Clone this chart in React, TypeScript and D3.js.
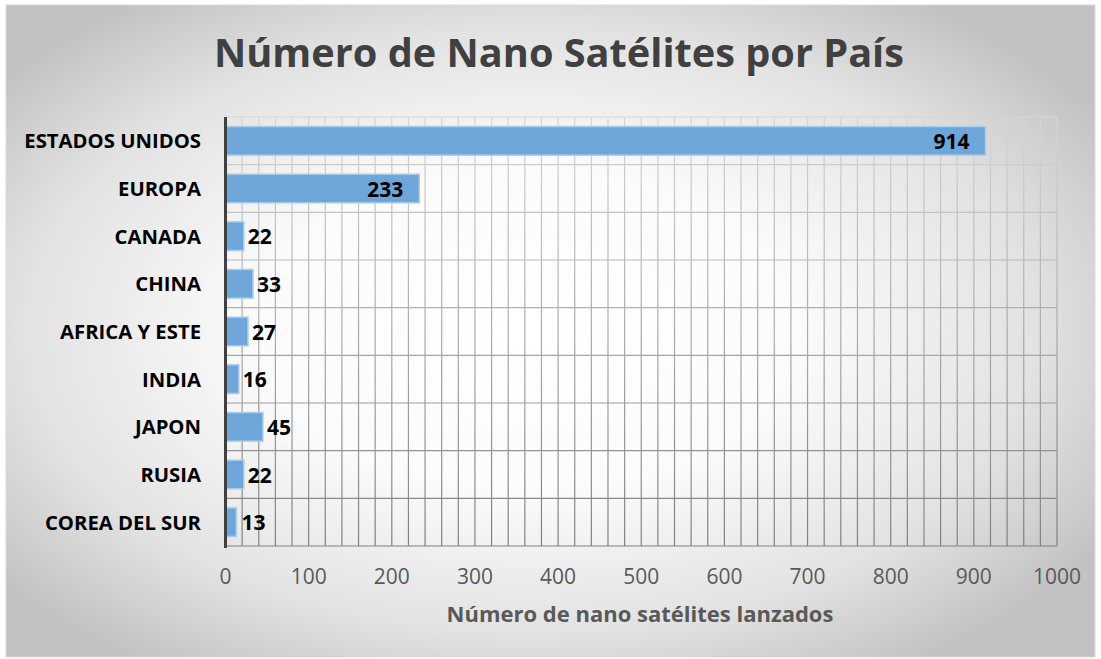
import React from "react";
import * as d3 from "d3";

const categories = ["ESTADOS UNIDOS", "EUROPA", "CANADA", "CHINA", "AFRICA Y ESTE", "INDIA", "JAPON", "RUSIA", "COREA DEL SUR"];
const values = [914, 233, 22, 33, 27, 16, 45, 22, 13];
const xTicks = [0, 100, 200, 300, 400, 500, 600, 700, 800, 900, 1000];
const minorStep = 20;
const insideLabels = [true, true, false, false, false, false, false, false, false];
const title = "Número de Nano Satélites por País";
const xTitle = "Número de nano satélites lanzados";

const W = 1101;
const H = 659;
const FONT = "'Open Sans', 'DejaVu Sans', sans-serif";

export default function App() {
  const left = 225.5;
  const right = 1057;
  const top = 117;
  const bottom = 546;
  const x = d3.scaleLinear().domain([0, 1000]).range([left, right]);
  const y = d3.scaleBand<string>().domain(categories).range([top, bottom]).paddingInner(0.4).paddingOuter(0.2);
  const minor = d3.range(minorStep, 1000 + 1, minorStep);
  const boundaries = d3.range(0, categories.length + 1).map((i) => top + i * ((bottom - top) / categories.length));

  return (
    <svg width={W} height={H} style={{ position: "absolute", left: 0, top: 0 }} xmlns="http://www.w3.org/2000/svg">
      <defs>
        <radialGradient id="bg" cx="48%" cy="50%" r="62%" fx="48%" fy="50%">
          <stop offset="0%" stopColor="#ffffff" />
          <stop offset="40%" stopColor="#fbfbfb" />
          <stop offset="75%" stopColor="#e2e2e2" />
          <stop offset="100%" stopColor="#c2c2c2" />
        </radialGradient>
        <linearGradient id="grid" gradientUnits="userSpaceOnUse" x1="0" y1={top} x2="0" y2={bottom}>
          <stop offset="0%" stopColor="#d6d6d6" />
          <stop offset="100%" stopColor="#808080" />
        </linearGradient>
      </defs>
      <rect x={0} y={0} width={W} height={H} fill="#ffffff" />
      <rect x={6} y={5} width={1089} height={652} fill="url(#bg)" stroke="#d9d9d9" strokeWidth={1} />

      <text x={559} y={67} textAnchor="middle" fontFamily={FONT} fontWeight={700} fontSize={39.7} fill="#404040">
        {title}
      </text>

      {/* grid */}
      <g stroke="url(#grid)" strokeWidth={1.2}>
        {minor.map((v) => (
          <line key={"v" + v} x1={x(v)} x2={x(v)} y1={top} y2={bottom} />
        ))}
        {boundaries.map((b, i) => (
          <line key={"h" + i} x1={left} x2={right} y1={b} y2={b} />
        ))}
      </g>

      {/* bars */}
      {categories.map((c, i) => (
        <rect
          key={c}
          x={x(0)}
          y={y(c)!}
          width={x(values[i]) - x(0)}
          height={y.bandwidth()}
          fill="#6fa6d9"
          stroke="#a9cbec"
          strokeWidth={1.5}
        />
      ))}

      {/* left axis */}
      <line x1={left} x2={left} y1={top} y2={bottom + 2} stroke="#404040" strokeWidth={3} />

      {/* category labels */}
      {categories.map((c) => (
        <text key={"c" + c} x={201} y={y(c)! + y.bandwidth() / 2 + 7.5} textAnchor="end" fontFamily={FONT} fontWeight={700} fontSize={20.3} fill="#000000">
          {c}
        </text>
      ))}

      {/* value labels */}
      {categories.map((c, i) => {
        const inside = insideLabels[i];
        const xe = x(values[i]);
        const lx = inside ? xe - 16 : Math.max(xe + 4, x(0) + 16);
        return (
          <text key={"l" + c} x={lx} y={y(c)! + y.bandwidth() / 2 + 8} textAnchor={inside ? "end" : "start"} fontFamily={FONT} fontWeight={700} fontSize={21} fill="#000000">
            {values[i]}
          </text>
        );
      })}

      {/* x tick labels */}
      {xTicks.map((t) => (
        <text key={"t" + t} x={x(t)} y={584} textAnchor="middle" fontFamily={FONT} fontSize={21} fill="#595959">
          {t}
        </text>
      ))}

      <text x={640} y={622} textAnchor="middle" fontFamily={FONT} fontWeight={700} fontSize={22} fill="#595959">
        {xTitle}
      </text>
    </svg>
  );
}
